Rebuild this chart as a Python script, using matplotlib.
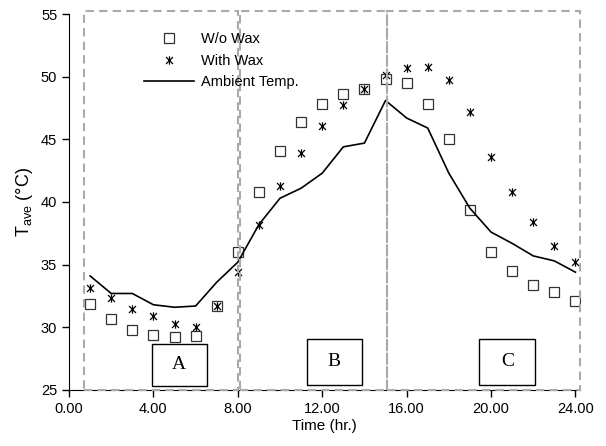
import numpy as np
import matplotlib
matplotlib.use('Agg')
import matplotlib.pyplot as plt
from matplotlib.path import Path
from matplotlib.patches import Rectangle

plt.rcParams['font.family'] = 'Liberation Sans'
plt.rcParams['mathtext.fontset'] = 'custom'
plt.rcParams['mathtext.rm'] = 'Liberation Sans'
plt.rcParams['mathtext.it'] = 'Liberation Sans'

hours = list(range(1, 25))
ambient = [34.1, 32.7, 32.7, 31.8, 31.6, 31.7, 33.6, 35.2, 38.2, 40.3, 41.1, 42.3,
           44.4, 44.7, 48.1, 46.7, 45.9, 42.3, 39.5, 37.6, 36.7, 35.7, 35.3, 34.4]
no_wax = [31.9, 30.7, 29.8, 29.4, 29.2, 29.3, 31.7, 36.0, 40.8, 44.1, 46.4, 47.8,
          48.6, 49.0, 49.8, 49.5, 47.8, 45.0, 39.4, 36.0, 34.5, 33.4, 32.8, 32.1]
with_wax = [33.1, 32.3, 31.5, 30.9, 30.3, 30.0, 31.7, 34.4, 38.2, 41.3, 43.9, 46.1,
            47.7, 49.0, 50.1, 50.7, 50.8, 49.7, 47.2, 43.6, 40.8, 38.4, 36.5, 35.2]

# periods (dashed boxes) and labelled boxes
periods = [(0.72, 8.0), (8.08, 15.05), (15.05, 24.2)]
label_boxes = [('A', 3.92, 6.53, 25.3, 28.7), ('B', 11.26, 13.87, 25.4, 29.1),
               ('C', 19.45, 22.09, 25.4, 29.1)]

star = Path([(-1, -1), (1, 1), (-1, 1), (1, -1), (0, -1.2), (0, 1.2)],
            [Path.MOVETO, Path.LINETO, Path.MOVETO, Path.LINETO, Path.MOVETO, Path.LINETO])

fig = plt.figure(figsize=(6.06, 4.46), dpi=100)
ax = fig.add_axes([0.1139, 0.1256, 0.8426, 0.843])

ax.plot(hours, no_wax, linestyle='none', marker='s', markersize=6.5, markerfacecolor='white',
        markeredgecolor='#333333', markeredgewidth=0.9, label='W/o Wax', zorder=3)
ax.plot(hours, with_wax, linestyle='none', marker=star, markersize=6, markerfacecolor='none',
        markeredgecolor='black', markeredgewidth=0.9, label='With Wax', zorder=4)
ax.plot(hours, ambient, color='black', linewidth=1.2, label='Ambient Temp.', zorder=3)

for x0, x1 in periods:
    ax.add_patch(Rectangle((x0, 25), x1 - x0, 30.2, fill=False, edgecolor='#aaaaaa',
                           linestyle=(0, (4, 2.5)), linewidth=1.5, clip_on=False, zorder=5))

for lab, x0, x1, y0, y1 in label_boxes:
    ax.add_patch(Rectangle((x0, y0), x1 - x0, y1 - y0, fill=True, facecolor='white',
                           edgecolor='black', linewidth=1.0, zorder=6))
    ax.text((x0 + x1) / 2, (y0 + y1) / 2, lab, ha='center', va='center', fontsize=14,
            family='Liberation Serif', zorder=7)

ax.set_xlim(0, 24.2)
ax.set_ylim(25, 55)
ax.set_xticks(np.arange(0, 25, 4))
ax.set_xticklabels([f'{v:.2f}' for v in np.arange(0, 25, 4)])
ax.set_yticks(np.arange(25, 56, 5))
ax.tick_params(labelsize=10.5, direction='out', length=5, width=1)
ax.spines['top'].set_visible(False)
ax.spines['right'].set_visible(False)

ax.set_xlabel('Time (hr.)', fontsize=11, labelpad=2)
ax.set_ylabel(r'T$_{\mathrm{ave}}$ (°C)', fontsize=13, labelpad=4)

ax.legend(loc='upper left', bbox_to_anchor=(0.13, 0.975), frameon=False, fontsize=10.5,
          handlelength=3.4, handletextpad=0.5, labelspacing=0.52, borderaxespad=0.2)

fig.savefig('out.png', dpi=100)
